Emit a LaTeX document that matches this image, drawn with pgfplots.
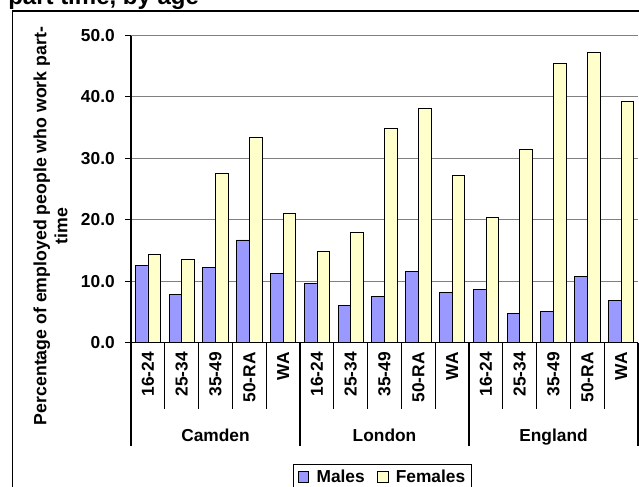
\documentclass[border=0pt]{standalone}
\usepackage{pgfplots}
\pgfplotsset{compat=1.18}
\usepackage{fontspec}
\setmainfont{Liberation Sans}
\definecolor{male}{HTML}{9999FF}
\definecolor{female}{HTML}{FFFFCC}
\definecolor{gridgray}{HTML}{808080}
\newcommand{\bfont}{\fontsize{13}{15.6}\selectfont\bfseries}
\begin{document}
\begin{tikzpicture}
\useasboundingbox (0,0) rectangle ({639*0.75pt},{-486*0.75pt});
\clip (0,0) rectangle ({639*0.75pt},{-486*0.75pt});
% outer chart frame
\draw[black, line width=0.8pt] ({12.5*0.75pt},{-11*0.75pt}) rectangle ({700*0.75pt},{-520*0.75pt});
% title (only its last line is visible)
\node[anchor=base west, inner sep=0pt, font=\fontsize{18}{21}\selectfont\bfseries] at ({8*0.75pt},{-4*0.75pt}) {part time, by age};
% y label
\node[rotate=90, align=center, font=\fontsize{13.3}{15.8}\selectfont\bfseries, inner sep=0pt] at ({50.5*0.75pt},{-226*0.75pt}) {Percentage of employed people who work part-\\time};
\begin{axis}[
  at={({131*0.75pt},{-342.5*0.75pt})}, anchor=south west,
  scale only axis, width={507*0.75pt}, height={307*0.75pt},
  xmin=0.5, xmax=15.5, ymin=0, ymax=50,
  ybar=0pt, bar width=9.5pt,
  axis lines*=left,
  axis line style={black, line width=0.8pt},
  tick align=outside, major tick length=4.5pt,
  ytick={0,10,20,30,40,50},
  ymajorgrids, grid style={gridgray, line width=0.75pt},
  y tick style={black, line width=0.8pt},
  yticklabel style={font=\bfont, inner sep=0pt, /pgf/number format/.cd, fixed, fixed zerofill, precision=1, assume math mode=true},
  yticklabel shift=7.5pt,
  xtick={1,...,15},
  xticklabels={16-24,25-34,35-49,50-RA,WA,16-24,25-34,35-49,50-RA,WA,16-24,25-34,35-49,50-RA,WA},
  x tick style={draw=none},
  xticklabel style={rotate=90, anchor=east, font=\bfont, inner sep=0pt},
  xticklabel shift=2.6pt,
  clip=false,
  legend style={at={(0.3195,-0.3958)}, anchor=north west, draw=black, line width=0.8pt, font=\bfont, legend columns=2, inner xsep=3pt, inner ysep=2pt,
    /tikz/every odd column/.append style={column sep=3.5pt},
    /tikz/every even column/.append style={column sep=7pt}},
  legend image code/.code={\draw[#1, line width=0.6pt] (0pt,-4.1pt) rectangle (8.2pt,4.1pt);},
]
\addplot[fill=male, draw=black, line width=0.6pt] coordinates {
(1,12.5) (2,7.9) (3,12.2) (4,16.7) (5,11.2)
(6,9.6) (7,6.1) (8,7.5) (9,11.5) (10,8.1)
(11,8.7) (12,4.7) (13,5.0) (14,10.7) (15,6.8)};
\addplot[fill=female, draw=black, line width=0.6pt] coordinates {
(1,14.3) (2,13.5) (3,27.5) (4,33.4) (5,21.0)
(6,14.8) (7,17.9) (8,34.8) (9,38.1) (10,27.2)
(11,20.3) (12,31.5) (13,45.5) (14,47.2) (15,39.2)};
\legend{Males,Females}
\pgfplotsinvokeforeach{1.5,2.5,3.5,4.5,6.5,7.5,8.5,9.5,11.5,12.5,13.5,14.5}{
  \draw[black, line width=0.8pt] (axis cs:#1,0) -- ++(0pt,-49.9pt);
}
\pgfplotsinvokeforeach{0.5,5.5,10.5,15.5}{
  \draw[black, line width=0.8pt] (axis cs:#1,0) -- ++(0pt,-77.6pt);
}
\node[anchor=base, font=\bfont] at (axis cs:3,0) [yshift=-74.6pt] {Camden};
\node[anchor=base, font=\bfont] at (axis cs:8,0) [yshift=-74.6pt] {London};
\node[anchor=base, font=\bfont] at (axis cs:13,0) [yshift=-74.6pt] {England};
\end{axis}
\end{tikzpicture}
\end{document}
